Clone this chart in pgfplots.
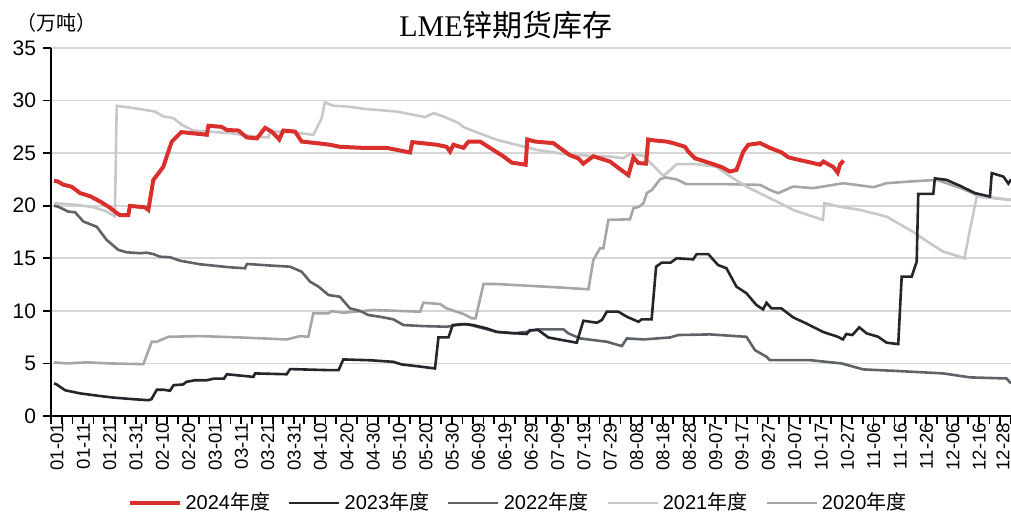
\documentclass[border=0pt]{standalone}
\usepackage{fontspec}
\setmainfont{Liberation Sans}
\newfontfamily\cjk{Noto Sans CJK SC}
\newfontfamily\seriffont{Liberation Serif}
\usepackage{pgfplots}
\pgfplotsset{compat=1.18}
\definecolor{c24}{HTML}{D8302C}
\definecolor{c23}{HTML}{23272B}
\definecolor{c22}{HTML}{5E6368}
\definecolor{c21}{HTML}{C8C8C8}
\definecolor{c20}{HTML}{A6A6A6}
\definecolor{gridc}{HTML}{D6D6D6}
\begin{document}
\begin{tikzpicture}
\path[use as bounding box] (0,0) rectangle (505.5pt,261pt);
\begin{axis}[
  scale only axis, width=480pt, height=184pt,
  at={(25.5pt,53pt)}, anchor=south west,
  xmin=-1.14, xmax=363.2, ymin=0, ymax=35,
  axis x line=bottom, axis y line=left,
  axis line style={-, black, line width=1pt},
  ytick={0,5,...,35},
  ymajorgrids, grid style={line width=0.8pt, color=gridc},
  tick align=outside,
  major tick length=4pt,
  every tick/.style={black, line width=0.9pt},
  xtick={-1,3,...,363},
  major x tick style={black, line width=0.9pt},
  xticklabels={},
  extra x ticks={0,10,...,350,359},
  extra x tick style={major tick length=0pt, grid=none},
  extra x tick labels={01-01,01-11,01-21,01-31,02-10,02-20,03-01,03-11,03-21,03-31,04-10,04-20,04-30,05-10,05-20,05-30,06-09,06-19,06-29,07-09,07-19,07-29,08-08,08-18,08-28,09-07,09-17,09-27,10-07,10-17,10-27,11-06,11-16,11-26,12-06,12-16,12-28},
  xticklabel style={rotate=90, anchor=east, font=\fontsize{9.3}{9.3}\selectfont, yshift=-1.5pt},
  yticklabel style={font=\fontsize{10.5}{10.5}\selectfont},
  /pgf/number format/assume math mode=true,
  legend columns=5, reverse legend,
  legend style={at={(0.4875,-0.236)}, anchor=center, draw=none, fill=none,
    font=\fontsize{10}{10}\selectfont,
    /tikz/every even column/.append style={column sep=7pt}},
  legend image code/.code={\draw[#1] (0pt,0pt) -- (25pt,0pt);},
  clip=false,
]
\addplot[c20, line width=1.3pt] coordinates {(0,5.1) (4.8,5.0) (12.4,5.1) (21.2,5.0) (33.9,4.93) (37.1,7.06) (39,7.06) (43.4,7.53) (55.4,7.6) (70.6,7.47) (88.3,7.28) (93.4,7.6) (96.5,7.53) (98.4,9.76) (104.2,9.76) (105.4,9.98) (109.8,9.82) (121.2,10.08) (138.9,9.92) (140.2,10.77) (146.5,10.65) (149,10.24) (155.4,9.7) (158.6,9.29) (160,9.29) (163,12.55) (168,12.55) (190.7,12.24) (202.8,12.05) (204.7,14.84) (207.2,15.95) (208.5,15.95) (210.4,18.65) (218.6,18.71) (219.9,19.76) (222,19.9) (223.7,20.24) (225,21.2) (226.9,21.5) (230,22.5) (231.9,22.7) (236.3,22.5) (240,22.05) (255.3,22.05) (268,21.98) (271.7,21.5) (274.8,21.19) (280.5,21.82) (288.1,21.67) (299.6,22.14) (311,21.76) (316,22.14) (324.9,22.3) (335,22.46) (345,21.6) (351.4,20.87) (363.2,20.55)};
\addlegendentry{2020{\cjk 年度}}
\addplot[c21, line width=1.3pt] coordinates {(0,20.24) (8.6,20.08) (15,19.86) (18.1,19.6) (20,19.44) (23.1,19.0) (23.8,29.5) (30.1,29.29) (38.3,28.96) (41.5,28.49) (45.3,28.33) (48.5,27.7) (52.9,27.15) (66.8,26.9) (76.3,26.58) (81.4,26.5) (82,27.06) (90,27.0) (98.4,26.74) (101.6,28.33) (102.8,29.82) (106,29.5) (111,29.44) (118.6,29.19) (130,28.96) (140.8,28.43) (144,28.8) (147.8,28.49) (153.5,27.86) (155.4,27.48) (163,26.74) (168,26.27) (175.6,25.79) (183.2,25.31) (193.3,24.93) (203.4,24.74) (211,24.68) (216,24.52) (218.6,24.93) (223.7,24.74) (227.5,23.8) (231.3,22.84) (233.2,23.25) (236.3,23.95) (243.9,23.95) (251.5,23.7) (254.7,23.1) (262.8,21.8) (274.3,20.4) (280.5,19.6) (291.8,18.65) (292.4,20.24) (298.3,19.9) (305.9,19.6) (316,18.96) (326.1,17.5) (332.4,16.43) (337.5,15.63) (344.4,15.1) (345.5,15.0) (347.6,17.7) (350.2,20.87) (355,20.8) (363.2,20.55)};
\addlegendentry{2021{\cjk 年度}}
\addplot[c22, line width=1.3pt] coordinates {(0,20.0) (1.6,19.9) (5.4,19.44) (8,19.38) (11.1,18.5) (16.2,18.0) (20,16.74) (24.4,15.8) (27.6,15.57) (32.6,15.48) (35.2,15.53) (37.7,15.4) (40.2,15.15) (44,15.1) (47.8,14.77) (55.4,14.43) (66.8,14.14) (72.5,14.05) (73.2,14.46) (80.8,14.33) (89.6,14.2) (94,13.72) (97.2,12.77) (100.4,12.3) (104.2,11.5) (108.5,11.34) (112.3,10.24) (116.1,10.0) (119.3,9.6) (123.7,9.44) (128.8,9.19) (132.6,8.65) (140.2,8.55) (149,8.49) (152.8,8.65) (156.6,8.74) (163,8.33) (168,8.0) (174.3,7.86) (179.4,8.0) (183.2,8.24) (193.3,8.24) (195.2,7.86) (199.6,7.38) (209.8,7.06) (215.5,6.65) (217.4,7.38) (223.7,7.28) (233.8,7.47) (237,7.7) (249,7.76) (262.8,7.53) (266,6.27) (270.4,5.63) (271.7,5.31) (286.9,5.31) (298.9,5.0) (307.1,4.43) (318.5,4.3) (337.5,4.05) (347.7,3.67) (361.5,3.57) (363.2,3.1)};
\addlegendentry{2022{\cjk 年度}}
\addplot[c23, line width=1.3pt] coordinates {(0,3.1) (1,3.0) (4.2,2.45) (9.9,2.15) (17.5,1.9) (22.5,1.75) (30,1.6) (35.8,1.5) (37,1.6) (39,2.5) (41.5,2.5) (44,2.4) (45.4,2.93) (49,3.0) (50.3,3.25) (53.5,3.4) (58,3.4) (60.6,3.55) (64.5,3.55) (65.6,3.97) (75.7,3.72) (76.3,4.05) (88.3,3.97) (89.6,4.46) (104.7,4.36) (108,4.36) (109.8,5.38) (120,5.3) (128.8,5.15) (132,4.9) (137.6,4.74) (144.6,4.52) (145.9,7.47) (149.7,7.47) (151.3,8.65) (155.4,8.74) (159.1,8.65) (164.2,8.33) (168,8.0) (175.6,7.86) (179.4,7.8) (180.6,8.17) (183.8,8.17) (187.6,7.47) (193.3,7.2) (198.4,6.97) (200.9,9.06) (206,8.87) (207.9,9.12) (209.8,9.92) (214.2,9.92) (217.4,9.44) (221.8,8.96) (223,9.19) (226.8,9.19) (228.5,14.2) (230.6,14.58) (234,14.58) (236.3,15.0) (242.6,14.9) (243.9,15.4) (248.3,15.4) (252,14.36) (255.2,14.05) (259,12.3) (262.8,11.67) (266.6,10.55) (269.1,10.14) (270.4,10.77) (272.3,10.24) (276,10.24) (280.5,9.38) (285.5,8.8) (291.8,8.0) (297.5,7.53) (299.4,7.28) (300.7,7.8) (303,7.7) (305.6,8.43) (308.4,7.86) (312.8,7.53) (316,6.97) (320.4,6.84) (321.7,13.25) (325.5,13.25) (327.4,14.68) (328,21.12) (333.7,21.12) (334.3,22.6) (338.7,22.46) (343.8,21.9) (349.5,21.2) (355.2,20.87) (355.9,23.1) (360.3,22.77) (362.2,22.1) (363.2,22.5)};
\addlegendentry{2023{\cjk 年度}}
\addplot[c24, line width=2pt] coordinates {(0,22.36) (1.5,22.3) (3.5,22.0) (6.7,21.8) (9.9,21.2) (13.7,20.9) (17.5,20.4) (21,19.85) (23.8,19.3) (25,19.1) (28.2,19.1) (28.8,19.98) (34.5,19.85) (35.8,19.6) (37.7,22.45) (41.5,23.7) (42.8,24.7) (44.7,26.1) (48.3,27.0) (58,26.75) (58.6,27.6) (63.6,27.5) (65.6,27.2) (70,27.15) (73.1,26.5) (77,26.4) (80.1,27.4) (82.6,27.05) (85.5,26.3) (87,27.15) (91.5,27.05) (94,26.1) (99.7,25.95) (104.7,25.8) (108.5,25.6) (117.4,25.5) (126.3,25.5) (135.1,25.06) (136,26.05) (145.2,25.8) (149,25.6) (150.3,25.15) (151.6,25.8) (155.4,25.5) (157.3,26.1) (161.7,26.1) (170.5,24.7) (173.7,24.1) (179,23.9) (179.6,26.3) (182.6,26.1) (189.5,25.95) (195.8,24.8) (199,24.5) (200.9,24.0) (204.7,24.7) (211,24.2) (215.5,23.35) (218,22.9) (219.9,24.6) (221.8,24.05) (224.7,24.0) (225.5,26.3) (228,26.2) (232.5,26.1) (235,25.95) (239.5,25.6) (240.7,25.15) (243.3,24.5) (249,24.05) (253.4,23.67) (256.5,23.25) (259,23.4) (261.6,25.15) (263.5,25.8) (268,25.95) (271.7,25.5) (276.2,25.06) (278.7,24.6) (281.9,24.4) (285.6,24.2) (290.7,23.9) (292,24.2) (295.8,23.67) (297.4,23.15) (298.3,23.9) (299.6,24.3)};
\addlegendentry{2024{\cjk 年度}}
\end{axis}
\node[font=\fontsize{15}{15}\selectfont] at (253pt,248.5pt) {{\seriffont LME}{\cjk 锌期货库存}};
\node[font=\fontsize{10}{10}\selectfont\cjk] at (28.25pt,249.5pt) {（万吨）};
\end{tikzpicture}
\end{document}
